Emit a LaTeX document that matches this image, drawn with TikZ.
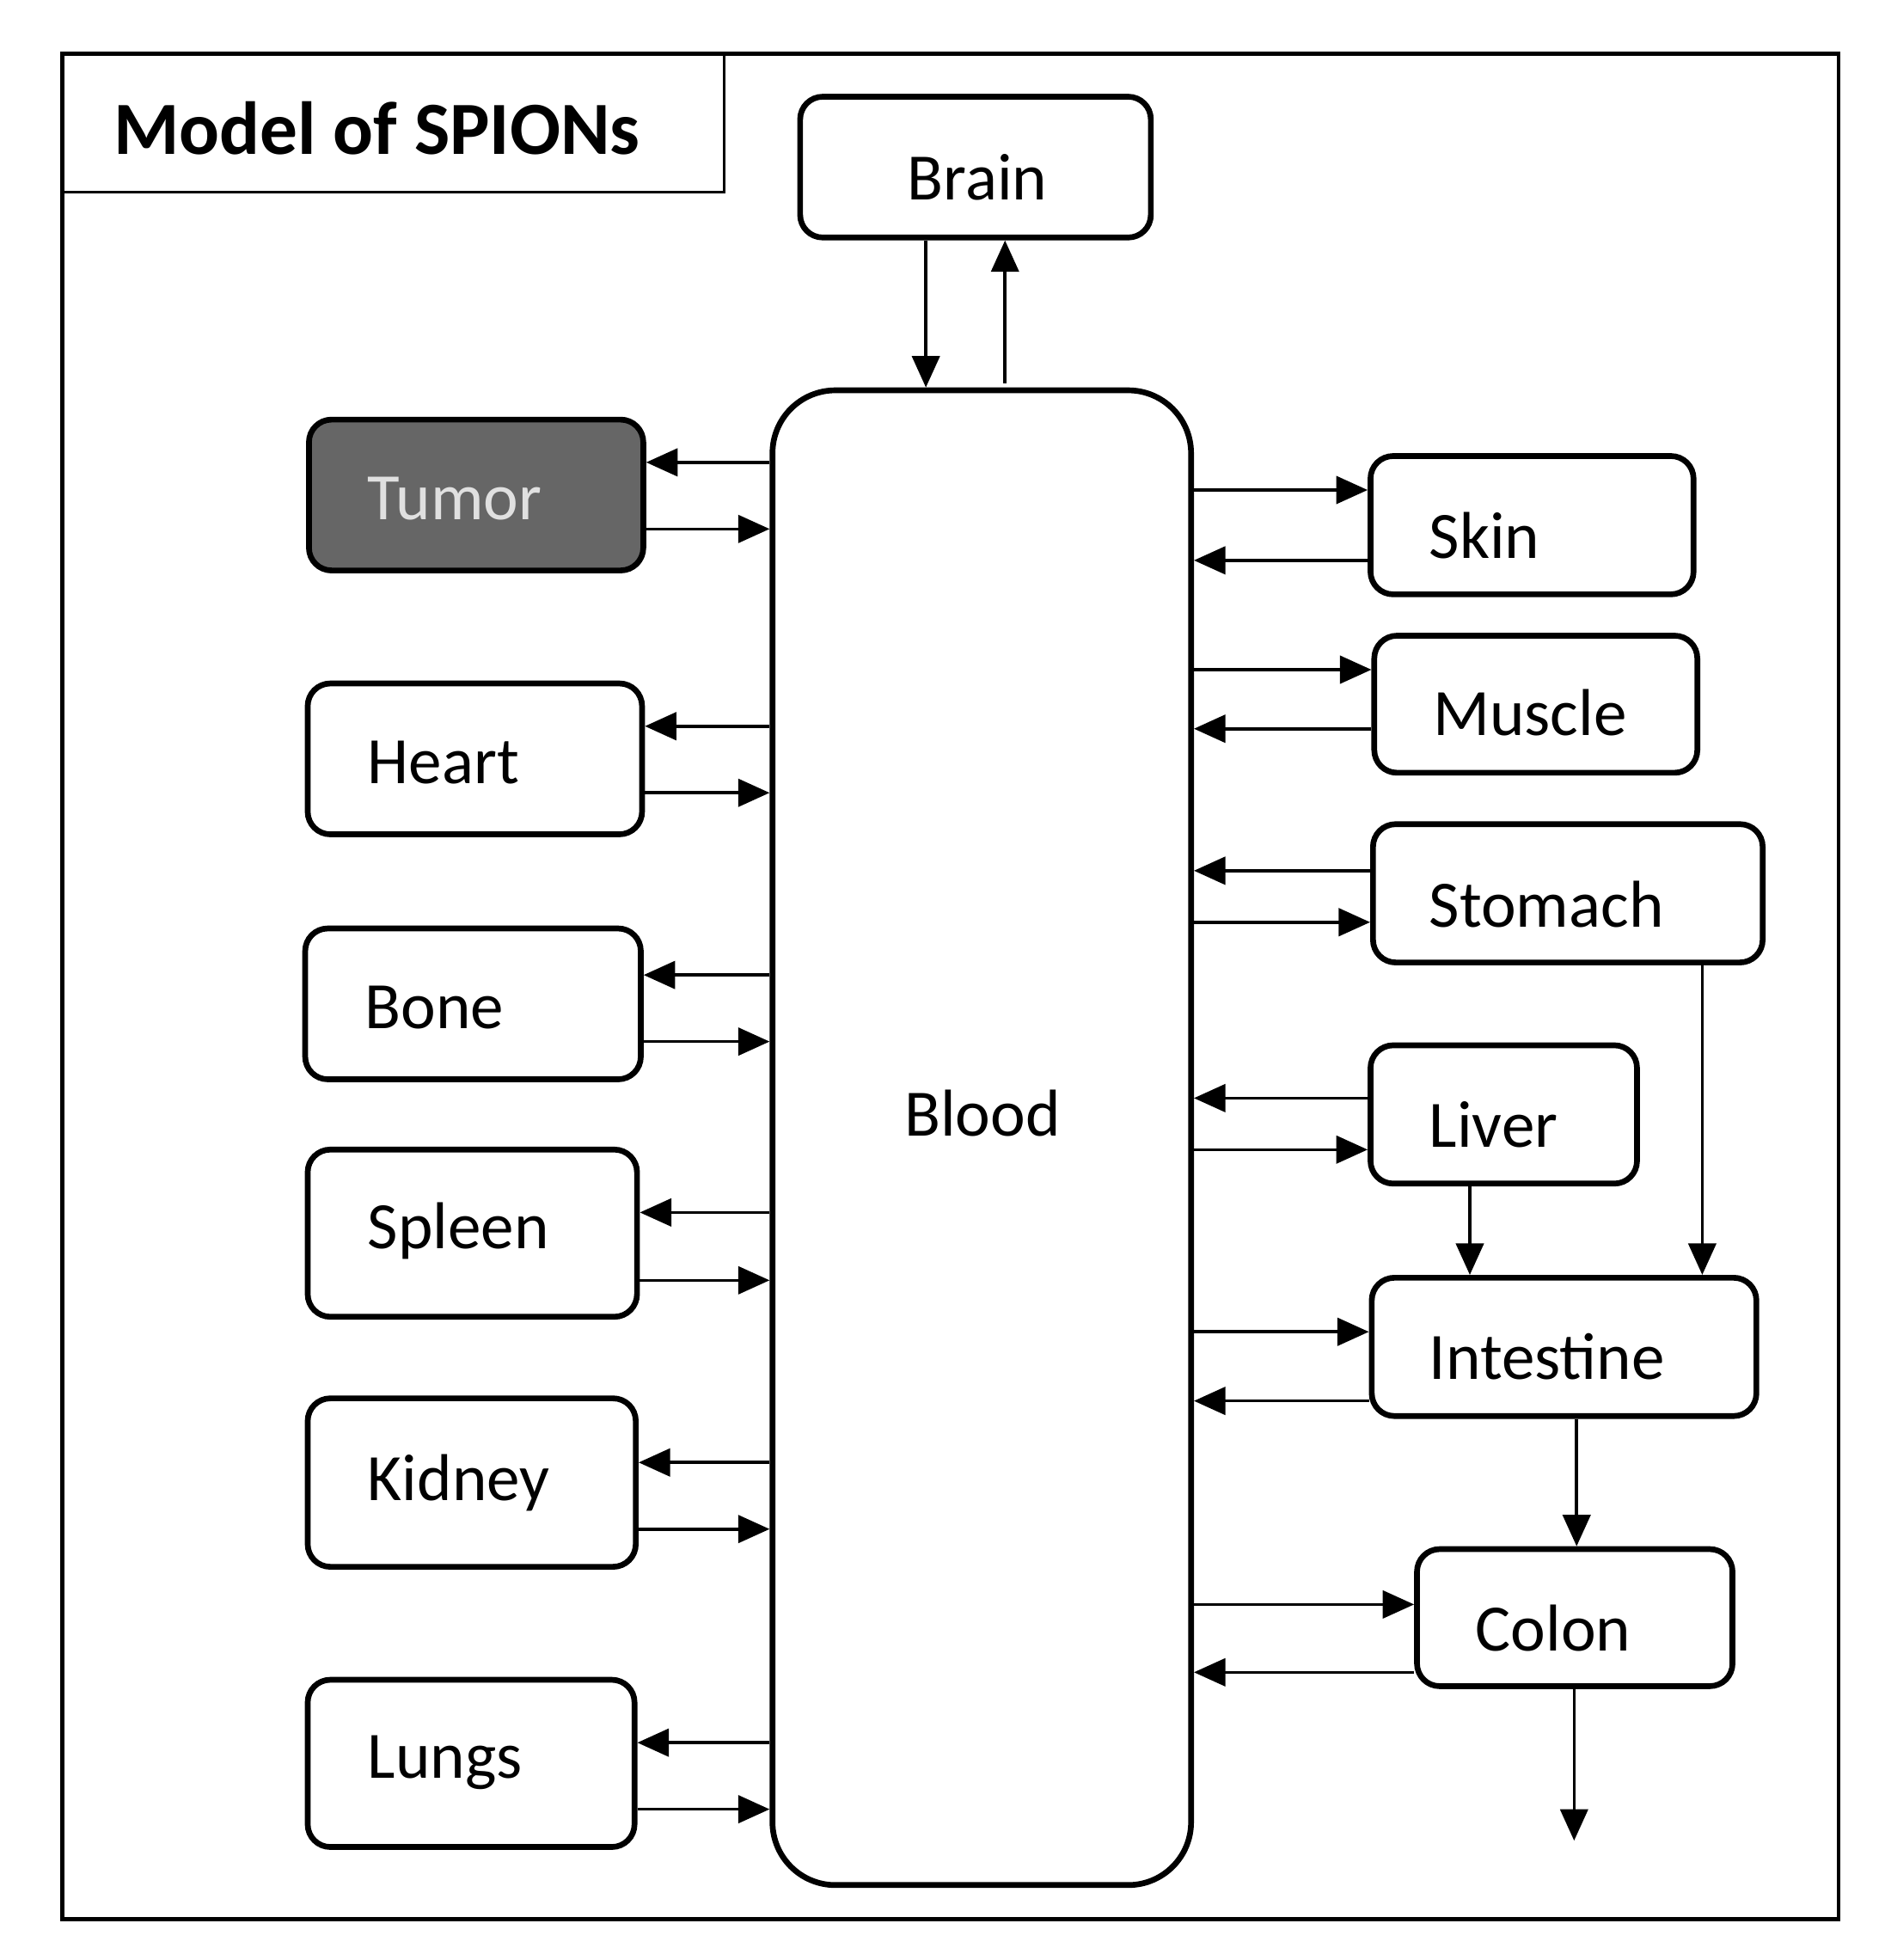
\documentclass[tikz,border=0pt]{standalone}
\usepackage{fontspec}
\setmainfont{Carlito}
\usetikzlibrary{arrows.meta,calc}
\begin{document}
\begin{tikzpicture}[x=0.01cm,y=-0.01cm,
 box/.style={draw,line width=1.3pt,rounded corners=0.18cm,inner sep=0pt},
 lbl/.style={font=\fontsize{15}{18}\selectfont,inner sep=0pt},
 arr/.style={line width=0.7pt,-{Triangle[length=0.25cm,width=0.22cm]}}]
\useasboundingbox (0,0) rectangle (1500,1560);
\node[draw,line width=0.9pt,minimum width=14.13cm,minimum height=14.84cm,inner sep=0pt] (frame) at (756.5,785) {};
\node[draw,line width=0.6pt,minimum width=5.26cm,minimum height=1.10cm,inner sep=0pt] (tbox) at (313,98) {};
\node[font=\bfseries\fontsize{17}{21}\selectfont] (title) at (300,102) {Model of SPIONs};
\node[box,minimum width=2.79cm,minimum height=1.12cm] (brain) at (776.5,133) {};
\node[lbl] (tbrain) at (778,141) {Brain};
\node[box,rounded corners=0.5cm,minimum width=3.33cm,minimum height=11.89cm] (blood) at (781.5,905.5) {};
\node[lbl] (tblood) at (782,886) {Blood};
% left
\node[box,fill=black!60,minimum width=2.66cm,minimum height=1.20cm] (tumor) at (379,394) {};
\node[lbl,anchor=west,text=black!12] (ttumor) at (292,397) {Tumor};
\node[box,minimum width=2.66cm,minimum height=1.20cm] (heart) at (378,604) {};
\node[lbl,anchor=west] (theart) at (292,607) {Heart};
\node[box,minimum width=2.67cm,minimum height=1.20cm] (bone) at (376.5,799) {};
\node[lbl,anchor=west] (tbone) at (290,802) {Bone};
\node[box,minimum width=2.62cm,minimum height=1.33cm] (spleen) at (376,981.5) {};
\node[lbl,anchor=west] (tspleen) at (292,980) {Spleen};
\node[box,minimum width=2.61cm,minimum height=1.34cm] (kidney) at (375.5,1180) {};
\node[lbl,anchor=west] (tkidney) at (292,1180) {Kidney};
\node[box,minimum width=2.60cm,minimum height=1.33cm] (lungs) at (375,1403.5) {};
\node[lbl,anchor=west] (tlungs) at (292,1403) {Lungs};
\foreach \n/\a/\b in {tumor/368/421,heart/578/631,bone/776/829,spleen/965/1019,kidney/1164/1217,lungs/1387/1440}{
 \draw[arr] (blood.west |- 0,\a) -- (\n.east |- 0,\a);
 \draw[arr] (\n.east |- 0,\b) -- (blood.west |- 0,\b);
}
% right
\node[box,minimum width=2.57cm,minimum height=1.10cm] (skin) at (1219.5,418) {};
\node[lbl,anchor=west] (tskin) at (1137,426) {Skin};
\node[box,minimum width=2.57cm,minimum height=1.09cm] (muscle) at (1222.5,560.5) {};
\node[lbl,anchor=west] (tmuscle) at (1140,567) {Muscle};
\node[box,minimum width=3.10cm,minimum height=1.10cm] (stomach) at (1248,711) {};
\node[lbl,anchor=west] (tstomach) at (1137,720) {Stomach};
\node[box,minimum width=2.12cm,minimum height=1.10cm] (liver) at (1197,887) {};
\node[lbl,anchor=west] (tliver) at (1137,895) {Liver};
\node[box,minimum width=3.06cm,minimum height=1.10cm] (intestine) at (1245,1072) {};
\node[lbl,anchor=west] (tintestine) at (1137,1080) {Intestine};
\node[box,minimum width=2.51cm,minimum height=1.09cm] (colon) at (1253.5,1287.5) {};
\node[lbl,anchor=west] (tcolon) at (1174,1296) {Colon};
\foreach \n/\a in {skin/390,muscle/533,stomach/734,liver/915,intestine/1060,colon/1277}
 \draw[arr] (blood.east |- 0,\a) -- (\n.west |- 0,\a);
\foreach \n/\b in {skin/446,muscle/580,stomach/693,liver/874,intestine/1115,colon/1331}
 \draw[arr] (\n.west |- 0,\b) -- (blood.east |- 0,\b);
\draw[arr] (liver.south -| 1170,0) -- (intestine.north -| 1170,0);
\draw[arr] (stomach.south -| 1355,0) -- (intestine.north -| 1355,0);
\draw[arr] (intestine.south -| 1255,0) -- (colon.north -| 1255,0);
\coordinate (out) at (1253,1465);
\draw[arr] (colon.south -| out) -- (out);
% brain
\draw[arr] (brain.south -| 737,0) -- (blood.north -| 737,0);
\draw[arr] (800,305) -- (brain.south -| 800,0);
\end{tikzpicture}
\end{document}
